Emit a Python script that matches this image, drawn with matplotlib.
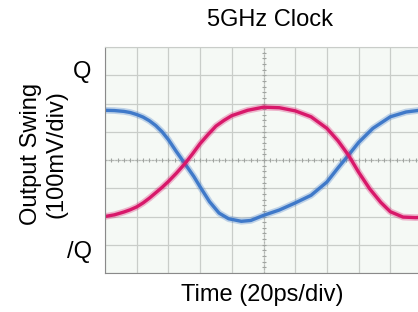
import numpy as np
import matplotlib
matplotlib.use("Agg")
import matplotlib.pyplot as plt

plt.rcParams['font.family'] = ['Liberation Sans', 'DejaVu Sans']

# time in ps (20 ps/div), swing in mV (100 mV/div)
q_t = [0, 6, 12, 16, 20, 24, 28, 32, 36, 40, 45, 50.4, 55, 60, 65, 70, 75,
       80, 90, 100, 110, 120, 130, 140, 147, 153.6, 160, 167, 174, 180, 188,
       196, 200]
q_mv = [-200, -194, -184, -176, -166, -152, -135, -116, -97, -76, -47, -13,
        20, 58, 90, 120, 140, 157, 176, 187, 185, 174, 153, 112, 68, 17, -43,
        -102, -150, -183, -202, -204, -203]

qb_t = [0, 6, 12, 16, 20, 24, 28, 32, 36, 40, 45, 50.4, 56, 60, 66, 72, 78,
        86, 92, 100, 110, 120, 130, 140, 147, 153.6, 160, 169, 180, 190, 200]
qb_mv = [176, 175, 172, 168, 161, 152, 139, 122, 100, 72, 30, -13, -58, -95,
         -148, -188, -208, -217, -214, -196, -177, -152, -125, -78, -28, 17,
         62, 112, 153, 170, 177]

title = "5GHz Clock"
xlabel = "Time (20ps/div)"
ylabel = "Output Swing\n(100mV/div)"

W, H = 418, 312
fig = plt.figure(figsize=(W / 100, H / 100), dpi=100)
ax = fig.add_axes([105 / W, (H - 273) / H, 317 / W, 226 / H])
ax.set_facecolor('#f5f9f5')

ax.set_xlim(0, 200)
ax.set_ylim(-400, 400)
ax.set_xticks(np.arange(0, 201, 20))
ax.set_yticks(np.arange(-400, 401, 100))
ax.grid(True, color='#c9cdc9', lw=0.9)
ax.tick_params(length=0, labelbottom=False, labelleft=False)
ax.spines['right'].set_visible(False)
ax.spines['top'].set_color('#c9cdc9')
ax.spines['left'].set_color('#8a8a8a')
ax.spines['bottom'].set_color('#8a8a8a')

# center graticule with small ticks
ax.axhline(0, color='#b0b4b0', lw=0.8, ls=(0, (1.5, 1.5)))
ax.axvline(100, color='#b0b4b0', lw=0.8, ls=(0, (1.5, 1.5)))
tx = np.arange(0, 201, 4)
ty = np.arange(-400, 401, 20)
ax.plot(tx, np.zeros_like(tx), '|', color='#a0a4a0', ms=3, mew=0.8)
ax.plot(np.full_like(ty, 100), ty, '_', color='#a0a4a0', ms=3, mew=0.8)

blue = '#3f79c9'
pink = '#d8186a'
for t, y, c in [(qb_t, qb_mv, blue), (q_t, q_mv, pink)]:
    ax.plot(t, y, color=c, lw=4.8, alpha=0.3, solid_capstyle='round',
            solid_joinstyle='round')
    ax.plot(t, y, color=c, lw=2.4, solid_capstyle='round',
            solid_joinstyle='round')

ax.text(-23 / 31.7 * 20, 313, "Q", fontsize=17, ha='center', va='center',
        clip_on=False)
ax.text(-25 / 31.7 * 20, -326, "/Q", fontsize=17, ha='center', va='center',
        clip_on=False)

fig.text(270 / W, 1 - 20 / H, title, fontsize=17, ha='center', va='center')
fig.text(262 / W, 1 - 295 / H, xlabel, fontsize=17, ha='center', va='center')
fig.text(44 / W, 1 - 154 / H, ylabel, fontsize=17, ha='center', va='center',
         rotation=90, linespacing=1.2)

fig.savefig("out.png", dpi=100)
